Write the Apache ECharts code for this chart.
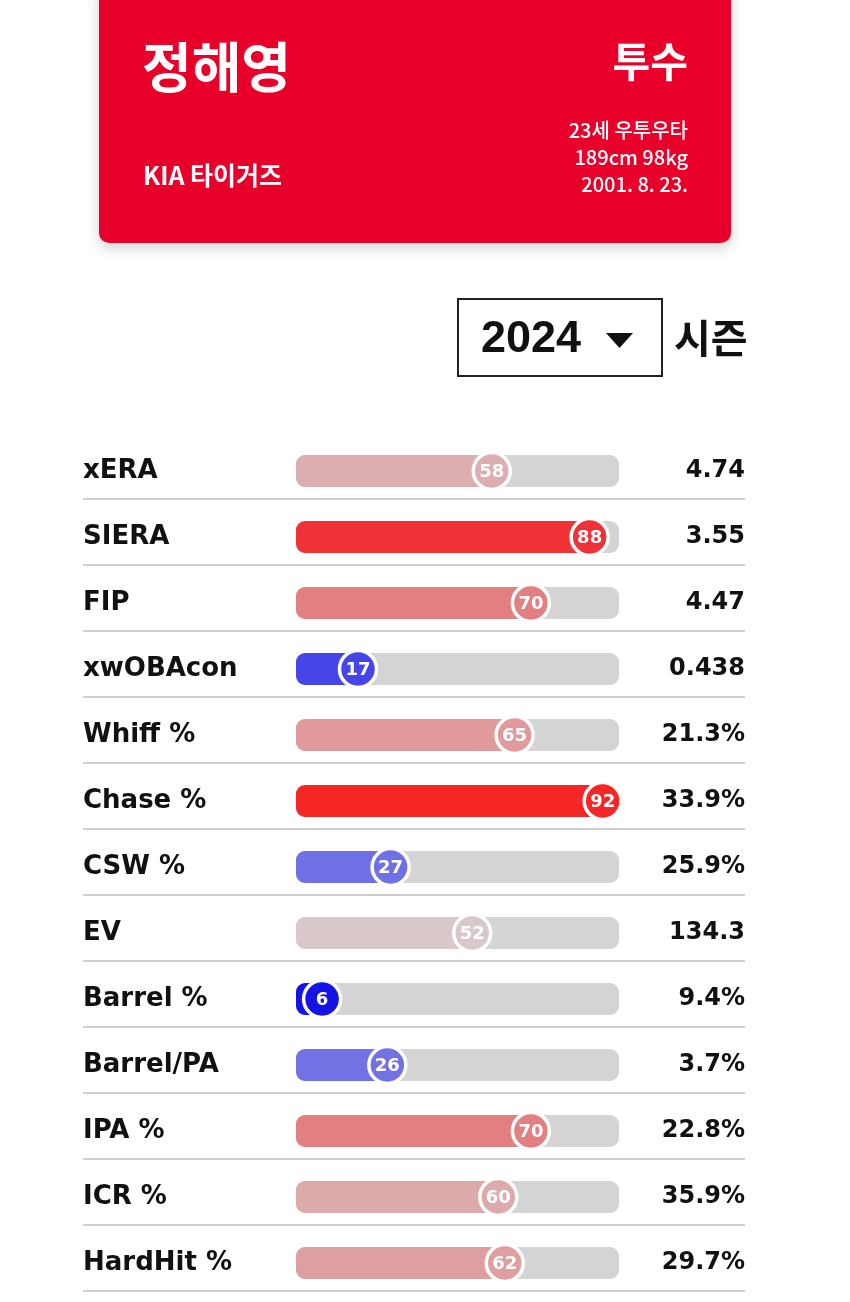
<!DOCTYPE html>
<html><head><meta charset="utf-8">
<script src="https://cdn.jsdelivr.net/npm/echarts@6/dist/echarts.min.js"></script>
<style>html,body{margin:0;padding:0;background:#fff}#c{width:850px;height:1302px}</style>
</head><body><div id="c"></div>
<script>
// ---- data ----
const metrics = ['xERA','SIERA','FIP','xwOBAcon','Whiff %','Chase %','CSW %','EV','Barrel %','Barrel/PA','IPA %','ICR %','HardHit %'];
const percentiles = [58,88,70,17,65,92,27,52,6,26,70,60,62];
const statValues = ['4.74','3.55','4.47','0.438','21.3%','33.9%','25.9%','134.3','9.4%','3.7%','22.8%','35.9%','29.7%'];
const barColors = ['#dcaeb0','#f03237','#e27f80','#4646e8','#e09a9b','#f52626','#7070e6','#d8c8c9','#1414e6','#7272e4','#e27f80','#dcaaab','#de9fa0'];
const playerName = '정해영';
const playerPosition = '투수';
const playerTeam = 'KIA 타이거즈';
const playerInfo = ['23세 우투우타','189cm 98kg','2001. 8. 23.'];
const season = '2024';
const seasonLabel = '시즌';

const KR = '"Noto Sans CJK KR", "Noto Sans", sans-serif';
const DJ = '"DejaVu Sans", "Noto Sans", sans-serif';

const chart = echarts.init(document.getElementById('c'), null, {renderer:'canvas'});

const option = {
  animation: false,
  backgroundColor: '#ffffff',
  grid: {left: 296, right: 231, top: 438, height: 858},
  xAxis: {type: 'value', min: -2, max: 97, show: false},
  yAxis: [
    {type: 'category', data: metrics, inverse: true,
     axisLine: {show: false}, axisTick: {show: false}, splitLine: {show: false},
     axisLabel: {align: 'left', margin: 213, fontSize: 26, fontWeight: 'bold', color: '#111', fontFamily: DJ}},
    {type: 'category', data: statValues, inverse: true, position: 'right',
     axisLine: {show: false}, axisTick: {show: false}, splitLine: {show: false},
     axisLabel: {align: 'right', margin: 126, fontSize: 24, fontWeight: 'bold', color: '#111', fontFamily: DJ}}
  ],
  series: [{
    type: 'custom',
    clip: false,
    data: percentiles.map((v, i) => [v, i]),
    renderItem: function (params, api) {
      const i = params.dataIndex;
      const cs = params.coordSys;
      const v = api.value(0);
      const p = api.coord([v, i]);
      const cy = p[1];
      const band = api.size([0, 1])[1];
      const h = 32;
      const col = barColors[i];
      return {
        type: 'group',
        children: [
          {type: 'line', shape: {x1: 83, y1: cy + band / 2 - 5, x2: 745, y2: cy + band / 2 - 5},
           style: {stroke: '#cfcfcf', lineWidth: 2}},
          {type: 'rect', shape: {x: cs.x, y: cy - h / 2, width: cs.width, height: h, r: 9},
           style: {fill: '#d4d4d4'}},
          {type: 'rect', shape: {x: cs.x, y: cy - h / 2, width: p[0] - cs.x, height: h, r: [9, 0, 0, 9]},
           style: {fill: col}},
          {type: 'circle', shape: {cx: p[0], cy: cy, r: 18.5},
           style: {fill: col, stroke: '#fff', lineWidth: 3.5}},
          {type: 'text', x: p[0], y: cy + 1,
           style: {text: String(v), fill: '#fff', font: 'bold 18px ' + DJ, align: 'center', verticalAlign: 'middle'}}
        ]
      };
    }
  }],
  graphic: [
    {type: 'rect', shape: {x: 99, y: -20, width: 632, height: 263, r: 10},
     style: {fill: '#e8002a', shadowBlur: 14, shadowColor: 'rgba(0,0,0,0.18)', shadowOffsetY: 5}},
    {type: 'text', x: 142, y: 67, style: {text: playerName, fill: '#fff', font: 'bold 54px ' + KR, verticalAlign: 'middle'}},
    {type: 'text', x: 688, y: 61, style: {text: playerPosition, fill: '#fff', font: 'bold 41px ' + KR, align: 'right', verticalAlign: 'middle'}},
    {type: 'text', x: 143, y: 175, style: {text: playerTeam, fill: '#fff', font: 'bold 25px ' + KR, verticalAlign: 'middle'}},
    {type: 'text', x: 688, y: 130, style: {text: playerInfo[0], fill: '#fff', font: '500 20px ' + KR, align: 'right', verticalAlign: 'middle'}},
    {type: 'text', x: 688, y: 157, style: {text: playerInfo[1], fill: '#fff', font: '500 20px ' + KR, align: 'right', verticalAlign: 'middle'}},
    {type: 'text', x: 688, y: 184, style: {text: playerInfo[2], fill: '#fff', font: '500 20px ' + KR, align: 'right', verticalAlign: 'middle'}},
    {type: 'rect', shape: {x: 458, y: 299, width: 204, height: 77}, style: {fill: 'none', stroke: '#222', lineWidth: 2}},
    {type: 'text', x: 481, y: 340, style: {text: season, fill: '#111', font: 'bold 45px "Liberation Sans", Arial, sans-serif', verticalAlign: 'middle'}},
    {type: 'polygon', shape: {points: [[606, 333], [633, 333], [619.5, 348]]}, style: {fill: '#111'}},
    {type: 'text', x: 674, y: 338, style: {text: seasonLabel, fill: '#111', font: 'bold 40px ' + KR, verticalAlign: 'middle'}}
  ]
};
chart.setOption(option);
</script>
</body></html>
